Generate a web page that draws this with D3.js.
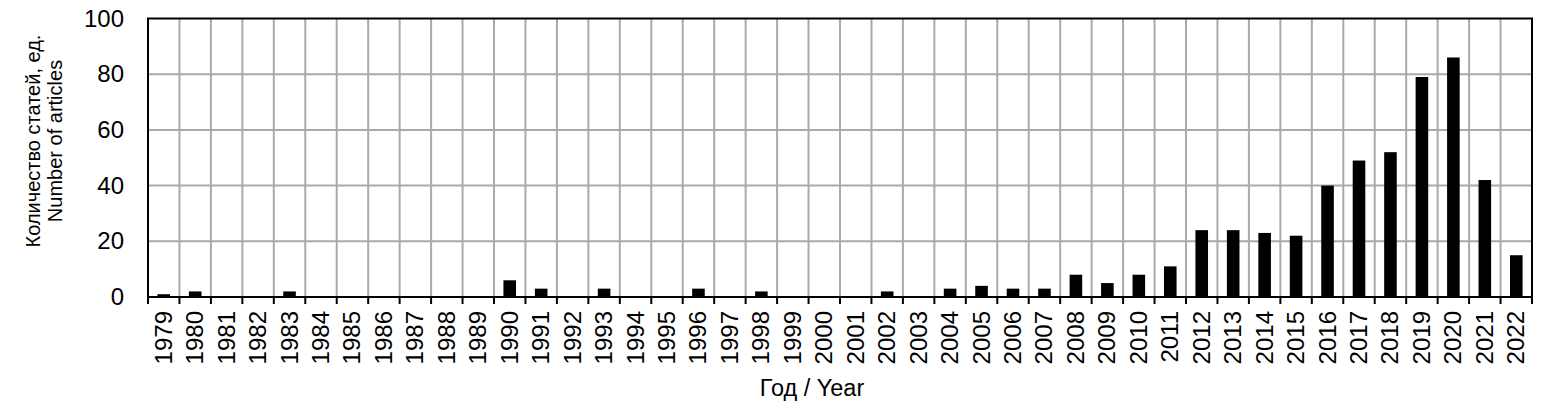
<!DOCTYPE html>
<html>
<head>
<meta charset="utf-8"/>
<script src="https://d3js.org/d3.v7.min.js"></script>
<style>
  body { margin: 0; background: #fff; }
  text { font-family: "Liberation Sans", Arial, sans-serif; fill: #000; }
</style>
</head>
<body>
<svg id="chart" width="1550" height="414"></svg>
<script>
// data
var years = ["1979","1980","1981","1982","1983","1984","1985","1986","1987","1988","1989",
             "1990","1991","1992","1993","1994","1995","1996","1997","1998","1999","2000",
             "2001","2002","2003","2004","2005","2006","2007","2008","2009","2010","2011",
             "2012","2013","2014","2015","2016","2017","2018","2019","2020","2021","2022"];
var counts = [1,2,0,0,2,0,0,0,0,0,0,
              6,3,0,3,0,0,3,0,2,0,0,
              0,2,0,3,4,3,3,8,5,8,11,
              24,24,23,22,40,49,52,79,86,42,15];
var yTicks = [0,20,40,60,80,100];
var xTitle = "Год / Year";
var yTitle = ["Количество статей, ед.", "Number of articles"];

var svg = d3.select("#chart");
var pLeft = 148, pTop = 18.5, pRight = 1532, pBottom = 297;

var x = d3.scaleBand().domain(years).range([pLeft, pRight]).paddingInner(0).paddingOuter(0);
var y = d3.scaleLinear().domain([0, 100]).range([pBottom, pTop]);

// horizontal grid
svg.append("g").selectAll("line")
  .data(yTicks.filter(function(d){ return d > 0 && d < 100; }))
  .enter().append("line")
  .attr("x1", pLeft).attr("x2", pRight)
  .attr("y1", function(d){ return y(d); })
  .attr("y2", function(d){ return y(d); })
  .attr("stroke", "#aaaaaa").attr("stroke-width", 2);

// vertical grid at category boundaries
svg.append("g").selectAll("line")
  .data(years.slice(1))
  .enter().append("line")
  .attr("x1", function(d){ return x(d); })
  .attr("x2", function(d){ return x(d); })
  .attr("y1", pTop).attr("y2", pBottom)
  .attr("stroke", "#aaaaaa").attr("stroke-width", 2);

// bars
var bw = x.bandwidth() * 0.4;
svg.append("g").selectAll("rect")
  .data(counts)
  .enter().append("rect")
  .attr("x", function(d, i){ return x(years[i]) + (x.bandwidth() - bw) / 2; })
  .attr("width", bw)
  .attr("y", function(d){ return y(d); })
  .attr("height", function(d){ return pBottom - y(d); })
  .attr("fill", "#000");

// frame
svg.append("rect")
  .attr("x", pLeft).attr("y", pTop)
  .attr("width", pRight - pLeft).attr("height", pBottom - pTop)
  .attr("fill", "none").attr("stroke", "#000").attr("stroke-width", 2);

// x tick marks at boundaries
var bounds = years.map(function(d){ return x(d); }).concat([pRight]);
svg.append("g").selectAll("line")
  .data(bounds)
  .enter().append("line")
  .attr("x1", function(d){ return d; }).attr("x2", function(d){ return d; })
  .attr("y1", pBottom).attr("y2", pBottom + 7)
  .attr("stroke", "#000").attr("stroke-width", 2);

// x labels, rotated
svg.append("g").selectAll("text")
  .data(years)
  .enter().append("text")
  .attr("transform", function(d){
    return "translate(" + (x(d) + x.bandwidth() / 2 + 8) + "," + (pBottom + 14) + ") rotate(-90)";
  })
  .attr("text-anchor", "end")
  .style("font-size", "24px")
  .text(function(d){ return d; });

// y labels
svg.append("g").selectAll("text")
  .data(yTicks)
  .enter().append("text")
  .attr("x", 124)
  .attr("y", function(d){ return y(d) + 8; })
  .attr("text-anchor", "end")
  .style("font-size", "24px")
  .text(function(d){ return d; });

// axis titles
svg.append("text")
  .attr("x", 812)
  .attr("y", 396)
  .attr("text-anchor", "middle")
  .style("font-size", "23.5px")
  .text(xTitle);

svg.append("text")
  .attr("transform", "translate(40,141) rotate(-90)")
  .attr("text-anchor", "middle")
  .style("font-size", "20px")
  .selectAll("tspan")
  .data(yTitle)
  .enter().append("tspan")
  .attr("x", 0)
  .attr("dy", function(d, i){ return i === 0 ? 0 : 22; })
  .text(function(d){ return d; });
</script>
</body>
</html>
